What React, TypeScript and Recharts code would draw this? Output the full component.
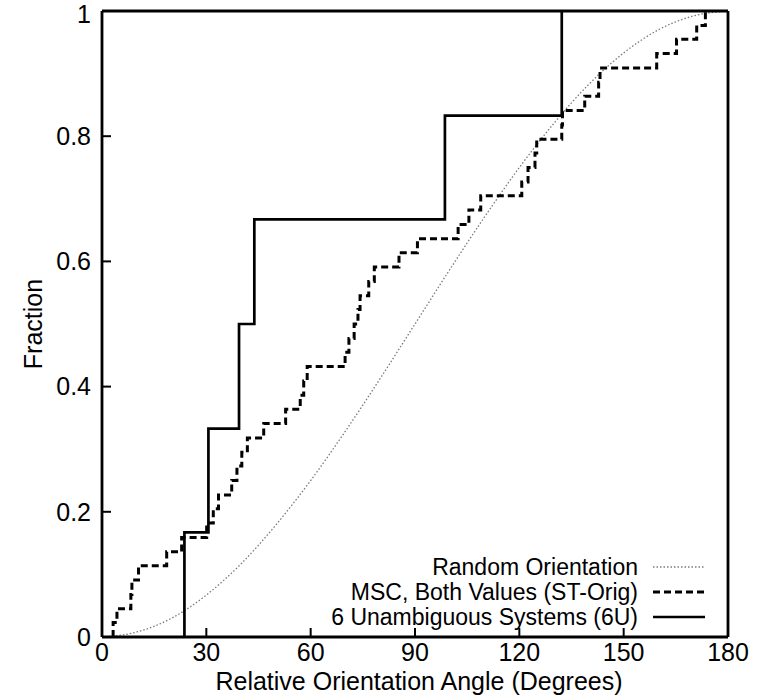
import { LineChart, Line, XAxis, YAxis } from 'recharts';

// Random orientation reference curve (sampled every 10 degrees)
const randomAngle = [0, 10, 20, 30, 40, 50, 60, 70, 80, 90, 100, 110, 120, 130, 140, 150, 160, 170, 180];
const randomFraction = [0, 0.008, 0.03, 0.067, 0.117, 0.179, 0.25, 0.329, 0.413, 0.5, 0.587, 0.671, 0.75, 0.821, 0.883, 0.933, 0.97, 0.992, 1];

// MSC, both values (ST-Orig): cumulative steps
const mscAngle = [
  3.2, 4.3, 8.3, 8.6, 10.5, 18.6, 22.9, 30.1, 32.0, 33.5, 37.3, 38.8, 40.2, 41.8, 46.5,
  52.8, 57.0, 58.0, 59.0, 69.9, 71.0, 72.5, 73.6, 74.2, 76.7, 78.3, 85.4, 90.7, 102.4,
  105.5, 108.9, 120.7, 122.5, 124.5, 125.0, 132.2, 132.4, 138.8, 142.8, 143.2, 159.5,
  165.2, 171.0, 173.5,
];
const mscFraction = [
  0.023, 0.045, 0.068, 0.091, 0.114, 0.136, 0.159, 0.182, 0.205, 0.227, 0.25, 0.273, 0.295,
  0.318, 0.341, 0.364, 0.386, 0.409, 0.432, 0.455, 0.477, 0.5, 0.523, 0.545, 0.568, 0.591,
  0.614, 0.636, 0.659, 0.682, 0.705, 0.727, 0.75, 0.773, 0.795, 0.818, 0.841, 0.864, 0.886,
  0.909, 0.932, 0.955, 0.977, 1,
];

// 6 unambiguous systems (6U)
const unambAngle = [23.7, 30.6, 39.4, 43.8, 98.6, 132.2];
const unambFraction = [0.167, 0.333, 0.5, 0.667, 0.833, 1];

const xTicks = [0, 30, 60, 90, 120, 150, 180];
const yTicks = [0, 0.2, 0.4, 0.6, 0.8, 1];

const FONT = '"Liberation Sans", Arial, Helvetica, sans-serif';

const randomData = randomAngle.map((x, i) => ({ x, y: randomFraction[i] }));

// step series start on the axis at the first angle
const toSteps = (angles: number[], fractions: number[]) => [
  { x: angles[0], y: 0 },
  ...angles.map((x, i) => ({ x, y: fractions[i] })),
];
const mscData = toSteps(mscAngle, mscFraction);
const unambData = toSteps(unambAngle, unambFraction);

const SERIES = [
  { name: 'Random Orientation', stroke: '#7a7a7a', width: 1.3, dash: '1.5 2' },
  { name: 'MSC, Both Values (ST-Orig)', stroke: '#000', width: 3, dash: '7 4' },
  { name: '6 Unambiguous Systems (6U)', stroke: '#000', width: 2.7, dash: undefined },
];

const tickStyle = { fontSize: 25, fill: '#000', fontFamily: FONT };
const border = { stroke: '#000', strokeWidth: 2.8 };
const tickLine = { stroke: '#000', strokeWidth: 2 };

function KeyBox() {
  return (
    <g>
      {SERIES.map((s, i) => {
        const y = 567 + i * 25;
        return (
          <g key={s.name}>
            <text
              x={638}
              y={y}
              textAnchor="end"
              dominantBaseline="central"
              fontSize={23}
              fontFamily={FONT}
              fill="#000"
            >
              {s.name}
            </text>
            <line x1={653} x2={705} y1={y} y2={y} stroke={s.stroke} strokeWidth={s.width} strokeDasharray={s.dash} />
          </g>
        );
      })}
    </g>
  );
}

export default function App() {
  return (
    <div style={{ position: 'absolute', left: 0, top: 0, background: '#fff' }}>
      <LineChart width={768} height={696} margin={{ top: 0, right: 0, bottom: 0, left: 0 }}>
        <XAxis
          dataKey="x"
          type="number"
          domain={[0, 180]}
          ticks={xTicks}
          height={59}
          tickSize={-9}
          tickMargin={15}
          tick={tickStyle}
          axisLine={border}
          tickLine={tickLine}
          allowDataOverflow
        />
        <XAxis
          xAxisId="top"
          orientation="top"
          dataKey="x"
          type="number"
          domain={[0, 180]}
          ticks={xTicks}
          height={11}
          tickSize={-9}
          tick={false}
          axisLine={border}
          tickLine={tickLine}
        />
        <YAxis
          type="number"
          domain={[0, 1]}
          ticks={yTicks}
          width={102}
          tickSize={-9}
          tickMargin={20}
          tick={tickStyle}
          axisLine={border}
          tickLine={tickLine}
          allowDataOverflow
        />
        <YAxis
          yAxisId="right"
          orientation="right"
          type="number"
          domain={[0, 1]}
          ticks={yTicks}
          width={40}
          tickSize={-9}
          tick={false}
          axisLine={border}
          tickLine={tickLine}
        />
        <Line
          data={randomData}
          dataKey="y"
          name={SERIES[0].name}
          type="monotone"
          stroke={SERIES[0].stroke}
          strokeWidth={SERIES[0].width}
          strokeDasharray={SERIES[0].dash}
          dot={false}
          isAnimationActive={false}
        />
        <Line
          data={mscData}
          dataKey="y"
          name={SERIES[1].name}
          type="stepAfter"
          stroke={SERIES[1].stroke}
          strokeWidth={SERIES[1].width}
          strokeDasharray={SERIES[1].dash}
          dot={false}
          isAnimationActive={false}
        />
        <Line
          data={unambData}
          dataKey="y"
          name={SERIES[2].name}
          type="stepAfter"
          stroke={SERIES[2].stroke}
          strokeWidth={SERIES[2].width}
          dot={false}
          isAnimationActive={false}
        />
        <text x={419} y={690} textAnchor="middle" fontSize={25} fontFamily={FONT} fill="#000">
          Relative Orientation Angle (Degrees)
        </text>
        <text
          x={33}
          y={324}
          textAnchor="middle"
          dominantBaseline="central"
          transform="rotate(-90 33 324)"
          fontSize={25}
          fontFamily={FONT}
          fill="#000"
        >
          Fraction
        </text>
        <KeyBox />
      </LineChart>
    </div>
  );
}
